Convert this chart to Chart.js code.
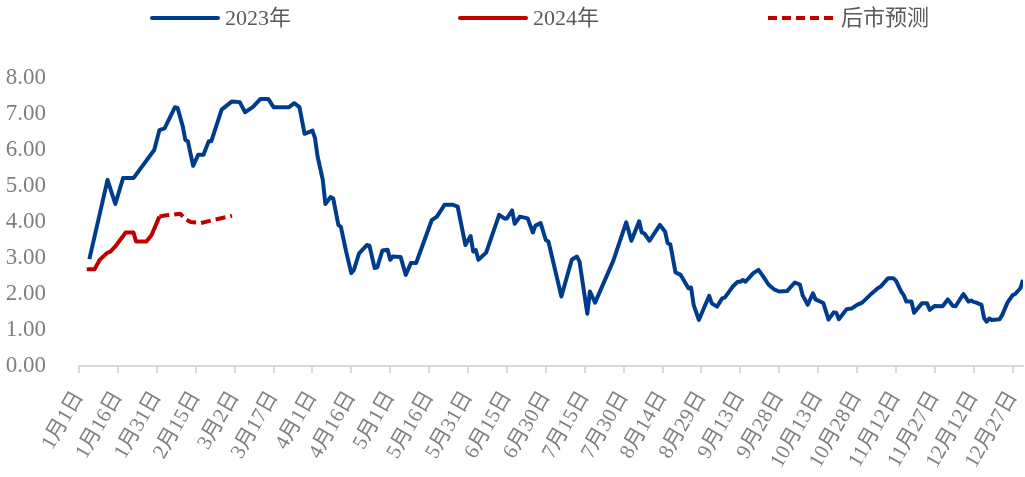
<!DOCTYPE html>
<html>
<head>
<meta charset="utf-8">
<script src="https://cdn.jsdelivr.net/npm/chart.js@4.4.1/dist/chart.umd.min.js"></script>
<style>
    body { margin: 0; background: #ffffff; }
    #wrap { position: relative; width: 1025px; height: 477px; }
</style>
</head>
<body>
<div id="wrap"><canvas id="priceChart"></canvas></div>
<script>
// x axis tick labels, one every 15 days from 1月1日
var tickLabels = ['1月1日', '1月16日', '1月31日', '2月15日', '3月2日', '3月17日', '4月1日', '4月16日',
    '5月1日', '5月16日', '5月31日', '6月15日', '6月30日', '7月15日', '7月30日', '8月14日', '8月29日',
    '9月13日', '9月28日', '10月13日', '10月28日', '11月12日', '11月27日', '12月12日', '12月27日'];

// 2023: day of year (0 = 1月1日) and value
var days2023 = [4, 11, 14, 17, 21, 29, 31, 33, 37, 38, 40, 41, 42, 44, 46, 48, 50, 51, 55, 59,
    62, 64, 67, 70, 73, 75, 81, 83, 85, 87, 90, 91, 92, 94, 95, 97, 98, 100, 101, 103,
    105, 106, 108, 111, 112, 114, 115, 117, 119, 120, 121, 124, 126, 128, 130, 136, 138, 141, 144, 146,
    149, 151, 152, 153, 154, 157, 162, 164, 165, 167, 168, 170, 173, 175, 176, 178, 180, 181, 186, 190,
    192, 193, 196, 197, 199, 206, 211, 213, 216, 217, 218, 220, 224, 226, 227, 228, 230, 232, 235, 236,
    237, 239, 243, 244, 246, 248, 249, 252, 254, 255, 256, 257, 260, 262, 264, 266, 268, 270, 273, 276,
    278, 279, 281, 283, 284, 287, 289, 291, 292, 293, 296, 298, 300, 302, 305, 308, 309, 312, 314, 315,
    317, 318, 319, 321, 322, 325, 327, 328, 330, 333, 335, 337, 338, 341, 343, 344, 345, 346, 348, 349,
    350, 351, 352, 355, 356, 358, 360, 361, 363, 364];
var values2023 = [2.97, 5.17, 4.50, 5.22, 5.22, 6.00, 6.55, 6.60, 7.19, 7.17, 6.66, 6.28, 6.24, 5.56, 5.87, 5.87, 6.24, 6.24, 7.12, 7.35,
    7.33, 7.05, 7.19, 7.42, 7.42, 7.19, 7.19, 7.30, 7.19, 6.45, 6.54, 6.33, 5.82, 5.17, 4.50, 4.69, 4.66, 3.92, 3.86, 3.18,
    2.58, 2.67, 3.13, 3.36, 3.34, 2.72, 2.74, 3.21, 3.23, 2.95, 3.04, 3.03, 2.53, 2.86, 2.86, 4.05, 4.15, 4.48, 4.48, 4.43,
    3.36, 3.61, 3.18, 3.22, 2.95, 3.15, 4.20, 4.10, 4.10, 4.32, 3.95, 4.15, 4.10, 3.71, 3.90, 3.97, 3.50, 3.46, 1.93, 2.95,
    3.04, 2.90, 1.45, 2.07, 1.76, 2.92, 3.99, 3.48, 4.02, 3.71, 3.68, 3.48, 3.92, 3.73, 3.41, 3.38, 2.60, 2.53, 2.16, 2.18,
    1.70, 1.28, 1.95, 1.74, 1.65, 1.88, 1.90, 2.20, 2.34, 2.34, 2.39, 2.34, 2.58, 2.67, 2.47, 2.25, 2.13, 2.07, 2.08, 2.32,
    2.26, 1.97, 1.70, 2.02, 1.85, 1.75, 1.29, 1.49, 1.48, 1.30, 1.58, 1.60, 1.70, 1.76, 1.97, 2.16, 2.20, 2.44, 2.44, 2.37,
    2.07, 1.97, 1.79, 1.79, 1.48, 1.74, 1.74, 1.56, 1.67, 1.66, 1.85, 1.67, 1.66, 2.00, 1.79, 1.82, 1.78, 1.76, 1.70, 1.33,
    1.23, 1.32, 1.28, 1.30, 1.42, 1.76, 1.97, 2.00, 2.16, 2.39];

// 2024 actual
var days2024 = [3, 6, 8, 11, 12, 14, 18, 21, 22, 26, 28, 31];
var values2024 = [2.69, 2.69, 2.95, 3.15, 3.17, 3.32, 3.71, 3.71, 3.46, 3.46, 3.64, 4.15];

// 后市预测 (forecast)
var daysForecast = [31, 33, 36, 39, 41, 43, 47, 52, 59];
var valuesForecast = [4.15, 4.18, 4.20, 4.23, 4.08, 4.00, 3.97, 4.06, 4.17];

var labelFont = { family: "'Liberation Serif', 'Noto Sans CJK SC'", size: 21 };

function toPoints(days, values) {
    var points = [];
    for(var i = 0; i < days.length; ++i) {
        points.push({ x: days[i], y: values[i] });
    }
    return points;
}

// legend drawn along the top, items spaced evenly like the source
var topLegend = {
    id: 'topLegend',
    afterDraw: function (chart) {
        var ctx = chart.ctx;
        var start = 152, step = 308, lineLen = 66, y = 18;
        ctx.save();
        chart.data.datasets.forEach(function (ds, i) {
            var x = start + i * step;
            ctx.beginPath();
            ctx.strokeStyle = ds.borderColor;
            ctx.lineWidth = 4;
            ctx.lineCap = ds.borderDash ? 'butt' : 'round';
            ctx.setLineDash(ds.borderDash ? [9, 5] : []);
            ctx.moveTo(x, y);
            ctx.lineTo(x + lineLen, y);
            ctx.stroke();
            ctx.setLineDash([]);
            ctx.fillStyle = '#595959';
            ctx.font = "22px 'Liberation Serif', 'Noto Sans CJK SC'";
            ctx.textBaseline = 'middle';
            ctx.textAlign = 'left';
            ctx.fillText(ds.label, x + lineLen + 7, y + 1);
        });
        ctx.restore();
    }
};

var ctx = document.getElementById('priceChart');
var priceChart = new Chart(ctx, {
    type: 'line',
    data: {
        datasets: [{
            label: '2023年',
            data: toPoints(days2023, values2023),
            borderColor: '#003C8C',
            borderWidth: 4
        }, {
            label: '2024年',
            data: toPoints(days2024, values2024),
            borderColor: '#C00000',
            borderWidth: 4
        }, {
            label: '后市预测',
            data: toPoints(daysForecast, valuesForecast),
            borderColor: '#C00000',
            borderWidth: 4,
            borderDash: [10, 5]
        }]
    },
    options: {
        responsive: true,
        maintainAspectRatio: false,
        animation: false,
        elements: {
            point: { radius: 0 },
            line: { tension: 0, borderJoinStyle: 'round', borderCapStyle: 'butt', fill: false }
        },
        layout: { padding: { top: 78, right: 2, left: 0, bottom: 0 } },
        plugins: {
            legend: { display: false },
            tooltip: { enabled: false }
        },
        scales: {
            x: {
                type: 'linear',
                min: 0,
                max: 364,
                afterBuildTicks: function (scale) {
                    scale.ticks = tickLabels.map(function (t, i) { return { value: i * 15 }; });
                },
                afterFit: function (scale) {
                    scale.height = 111;
                    scale.paddingRight = 0;
                    scale.paddingLeft = 0;
                },
                ticks: {
                    autoSkip: false,
                    minRotation: 60,
                    maxRotation: 60,
                    padding: 14,
                    color: '#7f7f7f',
                    font: labelFont,
                    callback: function (value, index) { return tickLabels[index]; }
                },
                grid: { drawOnChartArea: false, drawTicks: true, tickLength: 7, color: '#d9d9d9', lineWidth: 2 },
                border: { color: '#d9d9d9', width: 2 }
            },
            y: {
                min: 0,
                max: 8,
                afterFit: function (scale) { scale.width = 79; },
                ticks: {
                    stepSize: 1,
                    padding: 25,
                    color: '#7f7f7f',
                    font: { family: "'Liberation Serif'", size: 23 },
                    callback: function (value) { return value.toFixed(2); }
                },
                grid: { display: false },
                border: { display: false }
            }
        }
    },
    plugins: [topLegend]
});
</script>
</body>
</html>
